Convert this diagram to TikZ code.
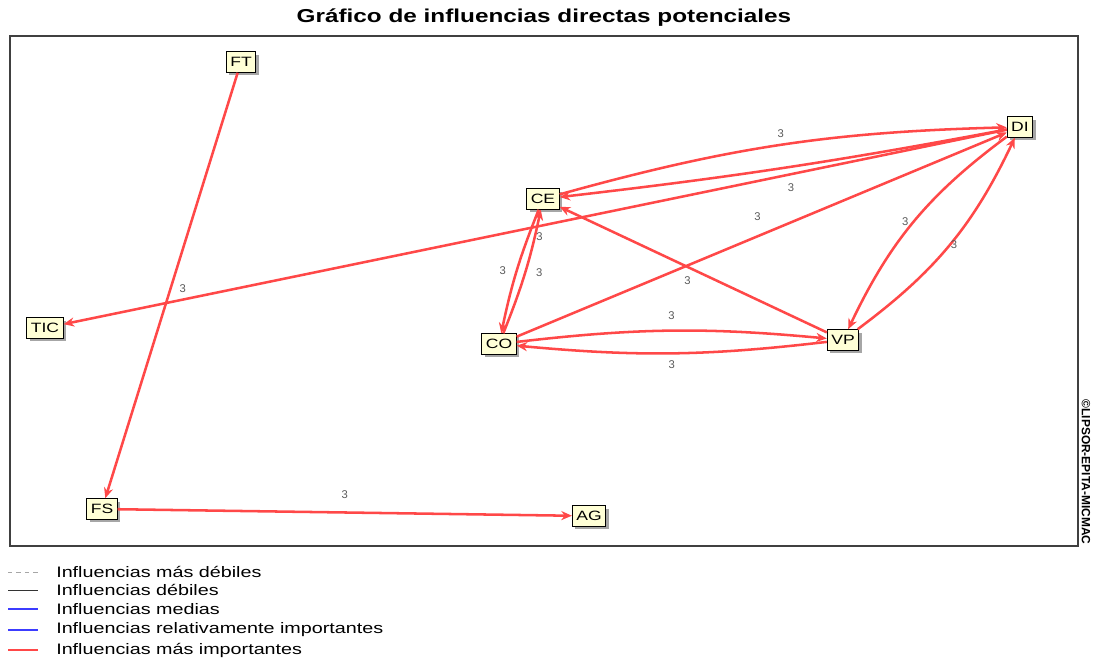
\documentclass[tikz,border=0pt]{standalone}
\usepackage{fontspec}
\setmainfont{Liberation Sans}
\newfontfamily\widefont[FakeStretch=1.3]{Liberation Sans}
\usetikzlibrary{arrows.meta}
\definecolor{infred}{RGB}{255,72,72}
\definecolor{cream}{RGB}{255,255,214}
\definecolor{lblgray}{RGB}{90,90,90}
\definecolor{legblue}{RGB}{60,60,255}
\tikzset{
  var/.style={draw=black, line width=0.8pt, fill=cream, font=\widefont\fontsize{9.6}{10}\selectfont,
    inner xsep=2.8pt, inner ysep=1.5pt, minimum height=14.5pt,
    preaction={fill=black!35, transform canvas={shift={(2.2pt,-2.2pt)}}}},
  infl/.style={draw=infred, line width=1.8pt, -{Stealth[length=7.5pt,width=6.5pt]}},
  lbl/.style={font=\fontsize{8}{9}\selectfont, text=lblgray, inner sep=0pt},
  legtxt/.style={anchor=west, font=\widefont\fontsize{10.8}{12}\selectfont, inner sep=0pt},
  lweakest/.style={dashed, black!35, line width=0.5pt},
  lweak/.style={black!80, line width=0.6pt},
  lmedium/.style={legblue, line width=0.8pt},
  lstrong/.style={legblue, line width=1.8pt},
  lstrongest/.style={infred, line width=1.8pt}
}
\begin{document}
\begin{tikzpicture}[x=0.025cm, y=-0.025cm]
    \useasboundingbox (0,0) rectangle (1094,661);

    % Title and frame
    \node (title) at (544,18) {\widefont\bfseries\fontsize{13.3}{15}\selectfont Gráfico de influencias directas potenciales};
    \draw[line width=1.2pt, black!75] (10,36) rectangle (1078,546);
    \node[rotate=-90, font=\bfseries\fontsize{8.5}{10}\selectfont] (copyr) at (1086,472) {©LIPSOR-EPITA-MICMAC};

    % Variables
    \node[var] (FT) at (241,62) {FT};
    \node[var] (DI) at (1020,127) {DI};
    \node[var] (CE) at (543,199) {CE};
    \node[var] (TIC) at (45,328) {TIC};
    \node[var] (CO) at (499,344) {CO};
    \node[var] (VP) at (843,340) {VP};
    \node[var] (FS) at (102,509) {FS};
    \node[var] (AG) at (589,516) {AG};

    % Influences
    \draw[infl] (FT) -- node[lbl, midway, xshift=8pt, yshift=-2pt] {3} (FS);
    \draw[infl] (FS) -- node[lbl, midway, yshift=13pt] {3} (AG);
    \draw[infl] (DI) -- node[lbl, midway, xshift=3pt, yshift=-7pt] {3} (TIC);
    \draw[infl] (CE) to[bend left=7] node[lbl, midway, yshift=8pt] {3} (DI);
    \draw[infl] (DI) to[bend left=2] node[lbl, midway, xshift=5pt, yshift=-14pt] {3} (CE);
    \draw[infl] (CO) -- node[lbl, midway, xshift=-3pt, yshift=13pt] {3} (DI);
    \draw[infl] (VP) -- node[lbl, midway, xshift=-4pt, yshift=-8pt] {3} (CE);
    \draw[infl] (CO) to[bend right=5] node[lbl, midway, xshift=10pt] {3} (CE);
    \draw[infl] (CE) to[bend right=5] node[lbl, midway, xshift=-10pt] {3} (CO);
    \draw[infl] (CO) to[bend left=6] node[lbl, midway, yshift=11pt] {3} (VP);
    \draw[infl] (VP) to[bend left=6] node[lbl, midway, yshift=-8pt] {3} (CO);
    \draw[infl] (DI) to[bend right=14] node[lbl, midway, xshift=-6pt] {3} (VP);
    \draw[infl] (VP) to[bend right=14] node[lbl, midway, xshift=3pt] {3} (DI);

    % Legend
    \foreach \y/\sty/\txt in {572/lweakest/Influencias más débiles,
        590/lweak/Influencias débiles,
        609/lmedium/Influencias medias,
        630/lstrong/Influencias relativamente importantes,
        650/lstrongest/Influencias más importantes} {
        \draw[\sty] (8,\y) -- (38,\y);
        \node[legtxt] at (56,\y) {\txt};
    }
\end{tikzpicture}
\end{document}
